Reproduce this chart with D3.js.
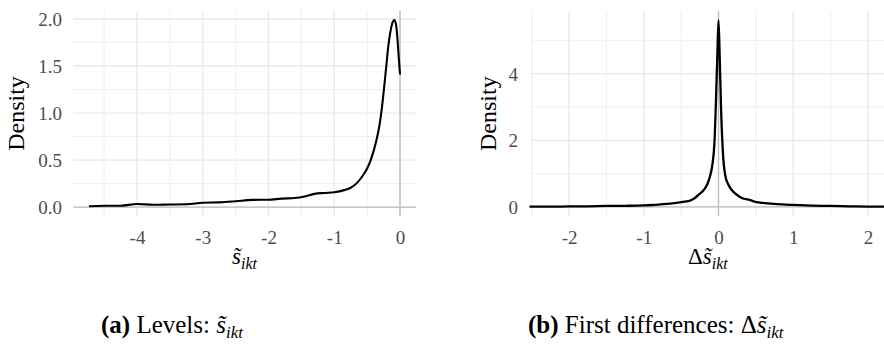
<!DOCTYPE html>
<html>
<head>
<meta charset="utf-8">
<script src="https://cdn.jsdelivr.net/npm/d3@7"></script>
<style>
  html, body { margin: 0; padding: 0; background: #fff; }
  svg { display: block; }
  svg text { font-family: "Liberation Serif", "DejaVu Serif", serif; }
</style>
</head>
<body>
<svg id="fig" width="884" height="361"></svg>
<script>
// Kernel density of the levels, s~_ikt
const levelsX = [-4.73, -4.5, -4.25, -4.0, -3.75, -3.5, -3.25, -3.0, -2.75, -2.5, -2.25, -2.0,
  -1.8, -1.6, -1.45, -1.3, -1.15, -1.0, -0.85, -0.75, -0.65, -0.57, -0.5, -0.45, -0.4,
  -0.355, -0.31, -0.28, -0.245, -0.21, -0.18, -0.15, -0.12, -0.086, -0.06, -0.04, -0.02, 0];
const levelsY = [0.008, 0.014, 0.014, 0.032, 0.024, 0.027, 0.03, 0.045, 0.05, 0.062, 0.076, 0.078,
  0.09, 0.096, 0.112, 0.14, 0.15, 0.158, 0.18, 0.205, 0.26, 0.33, 0.41, 0.49, 0.6,
  0.72, 0.88, 1.03, 1.25, 1.49, 1.7, 1.85, 1.95, 1.99, 1.94, 1.8, 1.6, 1.41];

// Kernel density of the first differences, Δs~_ikt
const diffsX = [-2.53, -2.25, -2.0, -1.75, -1.5, -1.25, -1.0, -0.85, -0.69, -0.55, -0.45, -0.38,
  -0.32, -0.26, -0.2, -0.15, -0.11, -0.08, -0.055, -0.035, -0.015, 0, 0.015, 0.035, 0.06,
  0.09, 0.13, 0.18, 0.25, 0.32, 0.4, 0.47, 0.56, 0.7, 0.85, 1.0, 1.25, 1.5, 1.75, 2.0, 2.25];
const diffsY = [0.01, 0.01, 0.015, 0.02, 0.03, 0.035, 0.045, 0.065, 0.09, 0.13, 0.16, 0.19,
  0.26, 0.38, 0.5, 0.68, 0.95, 1.3, 1.9, 3.1, 4.6, 5.6, 4.6, 2.9, 1.6,
  0.95, 0.68, 0.5, 0.36, 0.26, 0.22, 0.17, 0.13, 0.1, 0.075, 0.06, 0.04, 0.03, 0.02, 0.012, 0.01];

// Axis breaks and labels
const levelsXTicks = [-4, -3, -2, -1, 0];
const levelsXMinor = [-4.5, -3.5, -2.5, -1.5, -0.5];
const levelsYTicks = [0, 0.5, 1, 1.5, 2];
const levelsYLabels = ["0.0", "0.5", "1.0", "1.5", "2.0"];
const levelsYMinor = [0.25, 0.75, 1.25, 1.75];

const diffsXTicks = [-2, -1, 0, 1, 2];
const diffsXMinor = [-2.5, -1.5, -0.5, 0.5, 1.5];
const diffsYTicks = [0, 2, 4];
const diffsYMinor = [1, 3, 5];

const SERIF = '"Liberation Serif", "DejaVu Serif", serif';
const svg = d3.select("#fig");

function panel(cfg) {
  const g = svg.append("g");
  const x = d3.scaleLinear().domain(cfg.xDomain).range(cfg.xRange);
  const y = d3.scaleLinear().domain(cfg.yDomain).range(cfg.yRange);
  const [x0, x1] = cfg.xRange;
  const [y0, y1] = cfg.yRange;

  // minor grid
  g.append("g").selectAll("line").data(cfg.xMinor).join("line")
    .attr("x1", d => x(d)).attr("x2", d => x(d)).attr("y1", y0).attr("y2", y1)
    .attr("stroke", "#ededed").attr("stroke-width", 0.9);
  g.append("g").selectAll("line").data(cfg.yMinor).join("line")
    .attr("y1", d => y(d)).attr("y2", d => y(d)).attr("x1", x0).attr("x2", x1)
    .attr("stroke", "#ededed").attr("stroke-width", 0.9);
  // major grid
  g.append("g").selectAll("line").data(cfg.xTicks).join("line")
    .attr("x1", d => x(d)).attr("x2", d => x(d)).attr("y1", y0).attr("y2", y1)
    .attr("stroke", "#e8e8e8").attr("stroke-width", 1.3);
  g.append("g").selectAll("line").data(cfg.yTicks).join("line")
    .attr("y1", d => y(d)).attr("y2", d => y(d)).attr("x1", x0).attr("x2", x1)
    .attr("stroke", "#e8e8e8").attr("stroke-width", 1.3);

  // reference lines at zero
  g.append("line").attr("x1", x0).attr("x2", x1).attr("y1", y(0)).attr("y2", y(0))
    .attr("stroke", "#bdbdbd").attr("stroke-width", 1.3);
  g.append("line").attr("x1", x(0)).attr("x2", x(0)).attr("y1", y0).attr("y2", y1)
    .attr("stroke", "#bdbdbd").attr("stroke-width", 1.3);

  // density curve
  const pts = cfg.xs.map((v, i) => [v, cfg.ys[i]]);
  g.append("path").datum(pts)
    .attr("d", d3.line().x(d => x(d[0])).y(d => y(d[1])).curve(d3.curveMonotoneX))
    .attr("fill", "none").attr("stroke", "#000").attr("stroke-width", cfg.lineWidth)
    .attr("stroke-linejoin", "round").attr("stroke-linecap", "butt");

  // axes (labels only, no domain or tick marks)
  const xAxis = d3.axisBottom(x).tickValues(cfg.xTicks).tickSize(0).tickPadding(0)
    .tickFormat(d => d3.format("d")(d).replace("−", "-"));
  const xa = g.append("g").attr("transform", `translate(0,${cfg.xLabelY})`).call(xAxis);
  xa.select(".domain").remove();
  xa.attr("font-family", SERIF).style("font-family", SERIF);
  xa.selectAll("text").attr("fill", "#4d4d4d").attr("font-size", 19)
    .style("font-family", SERIF).attr("dy", 0);

  const yAxis = d3.axisLeft(y).tickValues(cfg.yTicks).tickSize(0).tickPadding(0)
    .tickFormat((d, i) => cfg.yLabels ? cfg.yLabels[i] : String(d));
  const ya = g.append("g").attr("transform", `translate(${cfg.yLabelX},0)`).call(yAxis);
  ya.select(".domain").remove();
  ya.attr("font-family", SERIF).style("font-family", SERIF);
  ya.selectAll("text").attr("fill", "#4d4d4d").attr("font-size", 19)
    .style("font-family", SERIF).attr("dy", "0.34em");

  // y title
  g.append("text")
    .attr("transform", `translate(${cfg.yTitleX},${(y0 + y1) / 2}) rotate(-90)`)
    .attr("text-anchor", "middle").attr("font-size", 24).attr("fill", "#000")
    .text("Density");

  // x title (math)
  const t = g.append("text").attr("x", (x0 + x1) / 2).attr("y", cfg.xTitleY)
    .attr("text-anchor", "middle").attr("font-size", 23).attr("fill", "#000");
  if (cfg.delta) t.append("tspan").text("Δ");
  t.append("tspan").attr("font-style", "italic").text("s\u0303");
  t.append("tspan").attr("font-style", "italic").attr("font-size", 16).attr("dy", 5).text("ikt");
  return g;
}

panel({
  xs: levelsX, ys: levelsY,
  xDomain: [-4.967, 0.237], xRange: [73.4, 415.6],
  yDomain: [-0.0995, 2.0895], yRange: [216.4, 10.6],
  xTicks: levelsXTicks, xMinor: levelsXMinor,
  yTicks: levelsYTicks, yMinor: levelsYMinor, yLabels: levelsYLabels,
  xLabelY: 244, yLabelX: 62, yTitleX: 24, xTitleY: 264, lineWidth: 2.1, delta: false
});

panel({
  xs: diffsX, ys: diffsY,
  xDomain: [-2.5, 2.215], xRange: [531.7, 884],
  yDomain: [-0.28, 5.88], yRange: [216.3, 11],
  xTicks: diffsXTicks, xMinor: diffsXMinor,
  yTicks: diffsYTicks, yMinor: diffsYMinor, yLabels: null,
  xLabelY: 244, yLabelX: 518, yTitleX: 496, xTitleY: 264, lineWidth: 2.3, delta: true
});

// sub-figure captions
function caption(xPos, tag, label, delta) {
  const t = svg.append("text").attr("x", xPos).attr("y", 333)
    .attr("font-size", 25).attr("fill", "#000");
  t.append("tspan").attr("font-weight", "bold").text(tag);
  t.append("tspan").text(" " + label + " ");
  if (delta) t.append("tspan").text("Δ");
  t.append("tspan").attr("font-style", "italic").text("s\u0303");
  t.append("tspan").attr("font-style", "italic").attr("font-size", 17).attr("dy", 5).text("ikt");
}
caption(101, "(a)", "Levels:", false);
caption(528, "(b)", "First differences:", true);
</script>
</body>
</html>
